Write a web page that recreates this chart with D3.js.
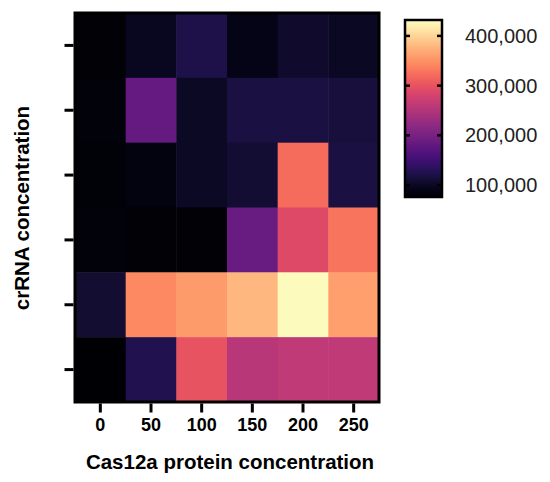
<!DOCTYPE html>
<html>
<head>
<meta charset="utf-8">
<script src="https://cdn.jsdelivr.net/npm/d3@7"></script>
<style>
  body { margin: 0; background: #fff; }
  svg { display: block; font-family: Arial, "Liberation Sans", sans-serif; }
</style>
</head>
<body>
<svg id="chart" width="550" height="482"></svg>
<script>
// Cas12a protein concentration (columns)
const cas12a = [0, 50, 100, 150, 200, 250];
// crRNA concentration levels (rows, top to bottom) - no labels in the figure
const crRNA = ["r1", "r2", "r3", "r4", "r5", "r6"];
// fluorescence values, one array per row
const values = [
  [80000, 97000, 122000, 90000, 106000, 99000],
  [83000, 183000, 101000, 119000, 119000, 115000],
  [81000, 87000, 101000, 110000, 322000, 119000],
  [83000, 80000, 80000, 186000, 290000, 329000],
  [108000, 343000, 357000, 379000, 430000, 361000],
  [76000, 126000, 300000, 254000, 261000, 261000]
];
const colorDomain = [76000, 432000];
const colorTicks = [100000, 200000, 300000, 400000];

const svg = d3.select("#chart");
const plot = { left: 75, right: 379, top: 13, bottom: 402 };

const x = d3.scaleBand().domain(cas12a).range([plot.left, plot.right]);
const y = d3.scaleBand().domain(crRNA).range([plot.top, plot.bottom]);
const color = d3.scaleSequential(d3.interpolateMagma).domain(colorDomain);

const cells = [];
values.forEach((row, i) => {
  row.forEach((v, j) => {
    cells.push({ row: crRNA[i], col: cas12a[j], value: v });
  });
});

svg.append("g")
  .selectAll("rect")
  .data(cells)
  .join("rect")
  .attr("x", d => x(d.col))
  .attr("y", d => y(d.row))
  .attr("width", x.bandwidth() + 0.5)
  .attr("height", y.bandwidth() + 0.5)
  .attr("fill", d => color(d.value));

// frame
svg.append("rect")
  .attr("x", plot.left)
  .attr("y", plot.top)
  .attr("width", plot.right - plot.left)
  .attr("height", plot.bottom - plot.top)
  .attr("fill", "none")
  .attr("stroke", "#000")
  .attr("stroke-width", 3);

// x axis
const xAxis = svg.append("g")
  .attr("transform", `translate(0,${plot.bottom + 1.5})`)
  .call(d3.axisBottom(x).tickSize(9).tickPadding(6));
xAxis.select(".domain").remove();
xAxis.selectAll(".tick line").attr("stroke", "#000").attr("stroke-width", 3);
xAxis.selectAll(".tick text")
  .attr("fill", "#000")
  .style("font-size", "18px")
  .style("font-weight", "bold");

// y axis (ticks only)
const yAxis = svg.append("g")
  .attr("transform", `translate(${plot.left - 1.5},0)`)
  .call(d3.axisLeft(y).tickSize(9).tickFormat(""));
yAxis.select(".domain").remove();
yAxis.selectAll(".tick line").attr("stroke", "#000").attr("stroke-width", 3);

// axis titles
svg.append("text")
  .attr("x", (plot.left + plot.right) / 2 + 3)
  .attr("y", 469)
  .attr("text-anchor", "middle")
  .attr("fill", "#000")
  .style("font-size", "20.5px")
  .style("font-weight", "bold")
  .text("Cas12a protein concentration");

svg.append("text")
  .attr("transform", "translate(29,208) rotate(-90)")
  .attr("text-anchor", "middle")
  .attr("fill", "#000")
  .style("font-size", "20.5px")
  .style("font-weight", "bold")
  .text("crRNA concentration");

// colour bar
const bar = { left: 405, right: 442, top: 20, bottom: 197 };
const cy = d3.scaleLinear().domain(colorDomain).range([bar.bottom, bar.top]);

const grad = svg.append("defs").append("linearGradient")
  .attr("id", "magma")
  .attr("x1", 0).attr("y1", 1).attr("x2", 0).attr("y2", 0);
d3.range(0, 1.0001, 0.05).forEach(t => {
  grad.append("stop")
    .attr("offset", t)
    .attr("stop-color", d3.interpolateMagma(t));
});

svg.append("rect")
  .attr("x", bar.left)
  .attr("y", bar.top)
  .attr("width", bar.right - bar.left)
  .attr("height", bar.bottom - bar.top)
  .attr("fill", "url(#magma)")
  .attr("stroke", "#000")
  .attr("stroke-width", 2.5);

const barTicks = svg.append("g");
barTicks.selectAll("line.l")
  .data(colorTicks)
  .join("line")
  .attr("class", "l")
  .attr("x1", bar.left).attr("x2", bar.left + 5)
  .attr("y1", d => cy(d)).attr("y2", d => cy(d))
  .attr("stroke", "#000").attr("stroke-width", 2.5);
barTicks.selectAll("line.r")
  .data(colorTicks)
  .join("line")
  .attr("class", "r")
  .attr("x1", bar.right - 5).attr("x2", bar.right)
  .attr("y1", d => cy(d)).attr("y2", d => cy(d))
  .attr("stroke", "#000").attr("stroke-width", 2.5);

svg.append("g")
  .selectAll("text")
  .data(colorTicks)
  .join("text")
  .attr("x", 465)
  .attr("y", d => cy(d))
  .attr("dy", "0.35em")
  .attr("fill", "#222")
  .style("font-size", "20px")
  .text(d => d3.format(",")(d));
</script>
</body>
</html>
